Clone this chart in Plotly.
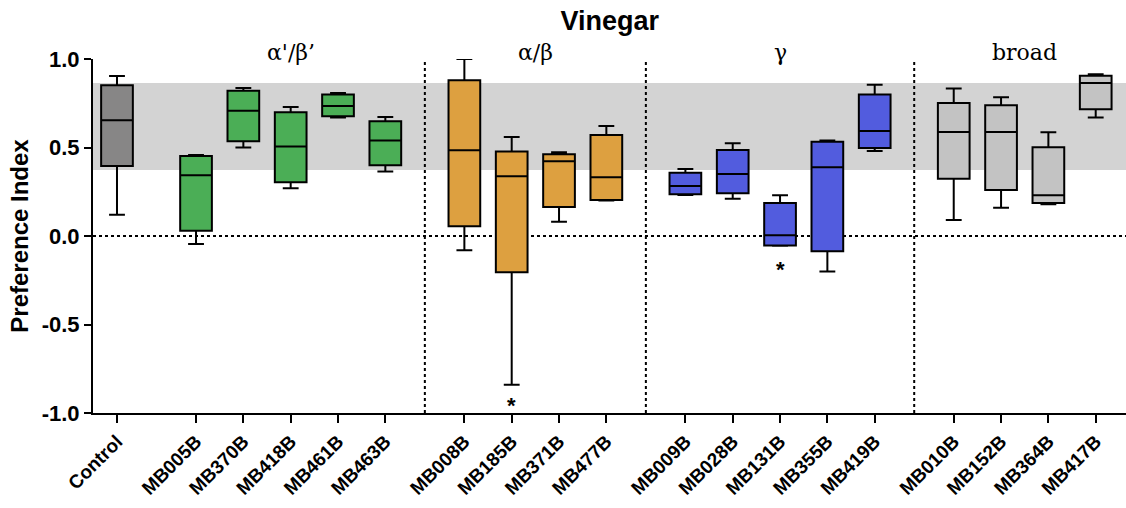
import plotly.graph_objects as go

# Strains, grouped by mushroom-body lobe class
labels = ["Control",
          "MB005B", "MB370B", "MB418B", "MB461B", "MB463B",
          "MB008B", "MB185B", "MB371B", "MB477B",
          "MB009B", "MB028B", "MB131B", "MB355B", "MB419B",
          "MB010B", "MB152B", "MB364B", "MB417B"]
group_of = [0, 1, 1, 1, 1, 1, 2, 2, 2, 2, 3, 3, 3, 3, 3, 4, 4, 4, 4]
group_names = ["", "α'/β’", "α/β", "γ", "broad"]
group_colors = ["#878686", "#4BAE56", "#DDA040", "#525CDE", "#C3C3C3"]

# Box-plot summary of the preference index per strain
lower = [0.12, -0.045, 0.50, 0.27, 0.67, 0.365, -0.08, -0.84, 0.08, 0.20,
         0.232, 0.21, -0.055, -0.20, 0.48, 0.09, 0.16, 0.18, 0.67]
q1 = [0.395, 0.03, 0.535, 0.303, 0.676, 0.40, 0.055, -0.205, 0.164, 0.203,
      0.236, 0.241, -0.053, -0.086, 0.497, 0.324, 0.26, 0.187, 0.716]
median = [0.654, 0.343, 0.708, 0.505, 0.734, 0.539, 0.484, 0.337, 0.422, 0.332,
          0.283, 0.35, 0.004, 0.388, 0.593, 0.588, 0.588, 0.23, 0.864]
q3 = [0.851, 0.452, 0.821, 0.699, 0.799, 0.648, 0.88, 0.477, 0.462, 0.571,
      0.358, 0.486, 0.187, 0.533, 0.80, 0.752, 0.738, 0.501, 0.906]
upper = [0.904, 0.458, 0.836, 0.729, 0.808, 0.672, 1.0, 0.559, 0.473, 0.621,
         0.379, 0.524, 0.23, 0.539, 0.855, 0.833, 0.784, 0.586, 0.914]

# Control interquartile band
band = [0.373, 0.864]

# Significance markers: strain -> y of the asterisk
stars = {"MB185B": -0.955, "MB131B": -0.19}

yticks = [-1.0, -0.5, 0.0, 0.5, 1.0]

# x positions: unit spacing within a group, wider gap between groups
GAP = 1.67
xpos = []
x = 0.0
for i, g in enumerate(group_of):
    if i > 0:
        x += GAP if g != group_of[i - 1] else 1.0
    xpos.append(x)

fig = go.Figure()

for i, lab in enumerate(labels):
    fig.add_trace(go.Box(
        x=[xpos[i]], q1=[q1[i]], median=[median[i]], q3=[q3[i]],
        lowerfence=[lower[i]], upperfence=[upper[i]],
        width=0.67, whiskerwidth=0.5,
        fillcolor=group_colors[group_of[i]],
        line=dict(color="black", width=2),
        boxpoints=False, showlegend=False, name=lab,
    ))

shapes = []
# grey reference band
shapes.append(dict(type="rect", xref="paper", yref="y", x0=0, x1=1,
                   y0=band[0], y1=band[1], fillcolor="#D3D3D3",
                   line=dict(width=0), layer="below"))
# zero line
shapes.append(dict(type="line", xref="paper", yref="y", x0=0, x1=1,
                   y0=0, y1=0, line=dict(color="black", width=2, dash="dot"),
                   layer="below"))
# group separators
annotations = []
for i in range(1, len(labels)):
    if group_of[i] != group_of[i - 1] and group_of[i - 1] != 0:
        xm = (xpos[i] + xpos[i - 1]) / 2
        shapes.append(dict(type="line", xref="x", yref="y", x0=xm, x1=xm,
                           y0=-1.0, y1=1.01,
                           line=dict(color="black", width=2, dash="dot"),
                           layer="below"))

# group titles
for g in range(1, len(group_names)):
    xs = [xpos[i] for i in range(len(labels)) if group_of[i] == g]
    annotations.append(dict(x=(xs[0] + xs[-1]) / 2, y=1.018, xref="x", yref="paper",
                            text=group_names[g], showarrow=False,
                            yanchor="middle",
                            font=dict(family="DejaVu Serif", size=22, color="black")))

for lab, ys in stars.items():
    annotations.append(dict(x=xpos[labels.index(lab)], y=ys, xref="x", yref="y",
                            text="<b>*</b>", showarrow=False,
                            font=dict(family="Liberation Sans", size=22, color="black")))

fig.update_layout(
    width=1126, height=508,
    margin=dict(l=93, r=0, t=59, b=95),
    paper_bgcolor="white", plot_bgcolor="white",
    boxmode="overlay",
    title=dict(text="<b>Vinegar</b>", x=0.5415, xanchor="center", y=0.96, yanchor="middle",
               font=dict(family="Liberation Sans", size=27, color="black")),
    shapes=shapes, annotations=annotations,
    font=dict(family="Liberation Sans", color="black"),
)

fig.update_xaxes(
    range=[-0.507, xpos[-1] + 0.64],
    tickmode="array", tickvals=xpos, ticktext=labels,
    tickangle=-45, ticks="outside", ticklen=8, tickwidth=2, tickcolor="black",
    showline=True, linecolor="black", linewidth=2,
    showgrid=False, zeroline=False, automargin=False,
    tickfont=dict(family="Liberation Sans", size=19, color="black", weight="bold"),
)
fig.update_yaxes(
    range=[-1.0, 1.0],
    tickmode="array", tickvals=yticks, ticktext=[f"{v:.1f}" for v in yticks],
    ticks="outside", ticklen=7, tickwidth=2, tickcolor="black",
    showline=True, linecolor="black", linewidth=2,
    showgrid=False, zeroline=False, automargin=False,
    tickfont=dict(family="Liberation Sans", size=22, color="black", weight="bold"),
    title=dict(text="<b>Preference Index</b>", standoff=6,
               font=dict(family="Liberation Sans", size=24, color="black")),
)

fig.write_html("out.html")
